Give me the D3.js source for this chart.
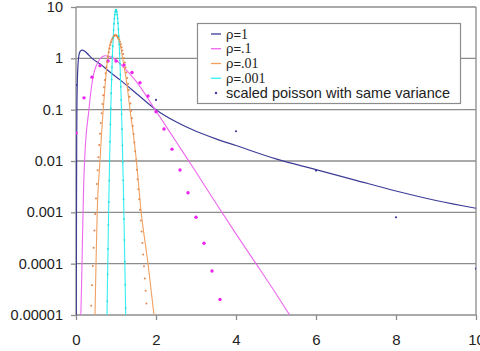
<!DOCTYPE html>
<html>
<head>
<meta charset="utf-8">
<script src="https://cdn.jsdelivr.net/npm/d3@7"></script>
<style>
  body { margin: 0; background: #fff; }
  svg { display: block; font-family: Arial, "Liberation Sans", sans-serif; }
</style>
</head>
<body>
<div id="chart"></div>
<script>
// tick values / labels
var xTicks = [0, 2, 4, 6, 8, 10];
var yTicks = [0.00001, 0.0001, 0.001, 0.01, 0.1, 1, 10];
var yTickLabels = ["0.00001", "0.0001", "0.001", "0.01", "0.1", "1", "10"];

var seriesNames = ["1", ".1", ".01", ".001"];
var poissonName = "scaled poisson with same variance";

// curves [x, density]
var rho1 = [[0.008,1e-5],[0.012,0.001],[0.018,0.03],[0.025,0.15],[0.035,0.4],[0.05,0.75],[0.07,1.1],
  [0.1,1.35],[0.15,1.45],[0.22,1.38],[0.3,1.2],[0.4,1.0],[0.6,0.78],[0.8,0.58],[1.1,0.38],[1.6,0.18],
  [2,0.1],[2.5,0.058],[3,0.038],[3.5,0.027],[4,0.02],[5,0.011],[6,0.0068],[7,0.0042],[8,0.0026],
  [9,0.0017],[10,0.0012]];

var rho01 = [[0.12,1e-5],[0.14,4e-5],[0.165,4e-4],[0.19,0.003],[0.225,0.015],[0.26,0.037],[0.31,0.08],
  [0.36,0.19],[0.43,0.45],[0.5,0.7],[0.6,0.97],[0.72,1.12],[0.85,1.08],[1.0,0.93],[1.2,0.66],[1.5,0.36],
  [2,0.094],[2.5,0.024],[3,0.0061],[3.5,0.0015],[4,0.00038],[4.5,0.0001],[5,0.000026],[5.4,0.0000085]];

var rho001 = [[0.475,1e-5],[0.5,1e-4],[0.53,0.001],[0.6,0.01],[0.64,0.035],[0.68,0.1],[0.72,0.25],
  [0.77,0.7],[0.81,1.3],[0.85,1.9],[0.9,2.4],[0.95,2.8],[0.98,2.9],[1.02,2.7],[1.06,2.3],[1.1,1.9],
  [1.2,0.7],[1.27,0.33],[1.35,0.1],[1.43,0.035],[1.5,0.012],[1.63,0.001],[1.8,0.0001],[1.95,0.00001]];

var rho0001 = [[0.775,1e-5],[0.78,1.9e-5],[0.8,1.9e-4],[0.82,0.0016],[0.84,0.010],[0.86,0.052],
  [0.88,0.21],[0.9,0.67],[0.92,1.72],[0.94,3.56],[0.96,5.94],[0.98,8.06],[1.0,8.91],[1.02,8.07],
  [1.04,6.0],[1.06,3.69],[1.08,1.87],[1.1,0.79],[1.12,0.279],[1.14,0.082],[1.16,0.0202],[1.18,0.0042],
  [1.2,7.4e-4],[1.22,1.09e-4],[1.24,1.36e-5],[1.245,1e-5]];

// scaled poisson points
var pois1 = [[0,0.30],[2,0.155],[4,0.038],[6,0.0065],[8,0.0008],[10,0.00008]];

var pois01 = [[0,0.035],[0.2,0.17],[0.4,0.43],[0.6,0.72],[0.8,0.89],[1.0,0.89],[1.2,0.74],[1.4,0.53],
  [1.6,0.335],[1.8,0.185],[2.0,0.091],[2.2,0.042],[2.4,0.017],[2.6,0.0067],[2.8,0.0024],[3.0,0.0008],
  [3.2,0.00025],[3.4,0.000072],[3.6,0.00002]];

var pois001 = [[0.38,1.51e-5],[0.4,3.78e-5],[0.42,8.99e-5],[0.44,2.04e-4],[0.46,4.45e-4],[0.48,9.26e-4],
  [0.5,1.85e-3],[0.52,3.57e-3],[0.54,6.6e-3],[0.56,0.0118],[0.58,0.0204],[0.6,0.0339],[0.62,0.0547],
  [0.64,0.0855],[0.66,0.1295],[0.68,0.1905],[0.7,0.272],[0.72,0.378],[0.74,0.511],[0.76,0.672],
  [0.78,0.861],[0.8,1.077],[0.82,1.313],[0.84,1.563],[0.86,1.817],[0.88,2.065],[0.9,2.295],[0.92,2.494],
  [0.94,2.653],[0.96,2.764],[0.98,2.82],[1.0,2.82],[1.02,2.765],[1.04,2.659],[1.06,2.508],[1.08,2.322],
  [1.1,2.111],[1.12,1.885],[1.14,1.653],[1.16,1.425],[1.18,1.208],[1.2,1.007],[1.22,0.825],[1.24,0.665],
  [1.26,0.528],[1.28,0.4125],[1.3,0.3173],[1.32,0.2404],[1.34,0.1794],[1.36,0.1319],[1.38,0.0956],
  [1.4,0.0683],[1.42,0.0481],[1.44,0.0334],[1.46,0.0229],[1.48,0.01546],[1.5,0.01031],[1.52,0.00678],
  [1.54,0.0044],[1.56,0.00282],[1.58,0.00179],[1.6,0.00112],[1.62,0.00069],[1.64,0.000421],
  [1.66,0.000253],[1.68,0.000151],[1.7,8.87e-5],[1.72,5.16e-5],[1.74,2.96e-5],[1.76,1.68e-5]];

var pois0001 = [[0.78,1.85e-5],[0.79,6.2e-5],[0.8,1.94e-4],[0.81,5.7e-4],[0.82,1.59e-3],[0.83,4.15e-3],
  [0.84,0.0102],[0.85,0.0237],[0.86,0.0519],[0.87,0.107],[0.88,0.209],[0.89,0.385],[0.9,0.67],[0.91,1.10],
  [0.92,1.72],[0.93,2.54],[0.94,3.56],[0.95,4.72],[0.96,5.94],[0.97,7.10],[0.98,8.06],[0.99,8.69],
  [1.0,8.91],[1.01,8.69],[1.02,8.07],[1.03,7.13],[1.04,6.0],[1.05,4.82],[1.06,3.69],[1.07,2.69],
  [1.08,1.87],[1.09,1.25],[1.1,0.79],[1.11,0.48],[1.12,0.279],[1.13,0.155],[1.14,0.082],[1.15,0.0416],
  [1.16,0.0202],[1.17,0.0094],[1.18,0.0042],[1.19,0.0018],[1.2,7.4e-4],[1.21,2.9e-4],[1.22,1.09e-4],
  [1.23,3.9e-5],[1.24,1.36e-5]];

var lineColors = ["#3d3d99", "#ee66ee", "#f0a060", "#33eeee"];
var dotColors = ["#3d3d99", "#ee22ee", "#e08a50", "#22dddd"];

var width = 480, height = 351;
var plot = {left: 76, right: 476, top: 7, bottom: 315};

var svg = d3.select("#chart").append("svg")
    .attr("width", width)
    .attr("height", height);

var x = d3.scaleLinear().domain([0, 10]).range([plot.left, plot.right]);
var y = d3.scaleLog().domain([1e-5, 10]).range([plot.bottom, plot.top]);

svg.append("defs").append("clipPath")
    .attr("id", "clip")
  .append("rect")
    .attr("x", plot.left)
    .attr("y", plot.top)
    .attr("width", plot.right - plot.left)
    .attr("height", plot.bottom - plot.top);

// grid lines
svg.append("g").selectAll("line")
    .data(yTicks)
  .enter().append("line")
    .attr("x1", plot.left).attr("x2", plot.right)
    .attr("y1", d => y(d)).attr("y2", d => y(d))
    .attr("stroke", "#8c8c8c")
    .attr("stroke-width", 1.3);

svg.append("line")
    .attr("x1", plot.right).attr("x2", plot.right)
    .attr("y1", plot.top).attr("y2", plot.bottom)
    .attr("stroke", "#8c8c8c").attr("stroke-width", 1.3);

svg.append("line")
    .attr("x1", plot.left).attr("x2", plot.left)
    .attr("y1", plot.top).attr("y2", plot.bottom)
    .attr("stroke", "#8c8c8c").attr("stroke-width", 1.3);

// axes
var yAxis = d3.axisLeft(y)
    .tickValues(yTicks)
    .tickFormat((d, i) => yTickLabels[i])
    .tickSize(5)
    .tickPadding(8);

var gy = svg.append("g")
    .attr("transform", `translate(${plot.left},0)`)
    .call(yAxis);
gy.select(".domain").remove();
gy.selectAll("line").attr("stroke", "#8c8c8c").attr("stroke-width", 1.3);
gy.selectAll("text").attr("font-size", "14.5px").attr("fill", "#222")
    .attr("font-family", "Arial, 'Liberation Sans', sans-serif");

var xAxis = d3.axisBottom(x)
    .tickValues(xTicks)
    .tickFormat(d3.format("d"))
    .tickSize(5)
    .tickPadding(14);

var gx = svg.append("g")
    .attr("transform", `translate(0,${plot.bottom})`)
    .call(xAxis);
gx.select(".domain").remove();
gx.selectAll("line").attr("stroke", "#8c8c8c").attr("stroke-width", 1.3);
gx.selectAll("text").attr("font-size", "15px").attr("fill", "#222")
    .attr("font-family", "Arial, 'Liberation Sans', sans-serif");

// curves
var line = d3.line()
    .curve(d3.curveMonotoneX)
    .x(d => x(d[0]))
    .y(d => y(d[1]));

var curves = [rho1, rho01, rho001, rho0001];
var plotArea = svg.append("g").attr("clip-path", "url(#clip)");

plotArea.selectAll(".curve")
    .data(curves)
  .enter().append("path")
    .attr("class", "curve")
    .attr("fill", "none")
    .attr("stroke", (d, i) => lineColors[i])
    .attr("stroke-width", (d, i) => i == 0 ? 1.2 : 1.1)
    .attr("d", line);

// poisson points
var dotSets = [pois1, pois01, pois001, pois0001];
var dotRadius = [1.1, 1.7, 1.0, 0.9];

dotSets.forEach(function(set, i) {
  plotArea.selectAll(".dots" + i)
      .data(set)
    .enter().append("circle")
      .attr("class", "dots" + i)
      .attr("cx", d => x(d[0]))
      .attr("cy", d => y(d[1]))
      .attr("r", dotRadius[i])
      .attr("fill", dotColors[i]);
});

// legend
var legend = svg.append("g");
legend.append("rect")
    .attr("x", 197.5).attr("y", 23.5)
    .attr("width", 263).attr("height", 80)
    .attr("fill", "#fff")
    .attr("stroke", "#8c8c8c")
    .attr("stroke-width", 1.2);

var rowY = d3.scalePoint().domain(d3.range(5)).range([34, 93]);

seriesNames.forEach(function(name, i) {
  legend.append("line")
      .attr("x1", 211).attr("x2", 221)
      .attr("y1", rowY(i)).attr("y2", rowY(i))
      .attr("stroke", lineColors[i])
      .attr("stroke-width", 1.3);
  var t = legend.append("text")
      .attr("x", 226)
      .attr("y", rowY(i) + 4.5)
      .attr("font-size", "13px")
      .attr("fill", "#222");
  t.append("tspan").attr("font-family", "Arial, 'Liberation Sans', sans-serif").text("ρ=");
  t.append("tspan").attr("font-family", "'Liberation Serif', 'Times New Roman', serif")
      .attr("font-size", "14px").text(name);
});

legend.append("circle")
    .attr("cx", 216).attr("cy", rowY(4))
    .attr("r", 1.2)
    .attr("fill", dotColors[0]);

legend.append("text")
    .attr("x", 226)
    .attr("y", rowY(4) + 5)
    .attr("font-size", "14.5px")
    .attr("fill", "#222")
    .text(poissonName);
</script>
</body>
</html>
